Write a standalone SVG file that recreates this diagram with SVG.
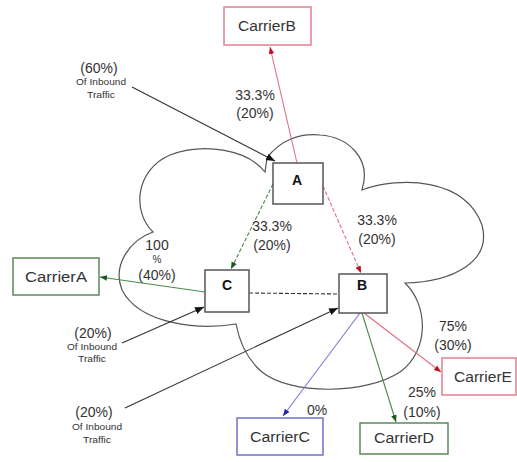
<svg xmlns="http://www.w3.org/2000/svg" width="517" height="462" viewBox="0 0 517 462">
  <style>
    text { font-family: "Liberation Sans", Arial, sans-serif; fill: #333; text-anchor: middle; }
    .pct { font-size: 14px; }
    .small { font-size: 8.5px; }
    .mid { font-size: 10px; }
    .carrier { font-size: 14px; }
    .nodelbl { font-size: 14px; font-weight: bold; fill: #111; }
    .node { fill: #fff; stroke: #555; stroke-width: 1.5; }
    .cloud { fill: none; stroke: #555; stroke-width: 1.2; }
    .red { stroke: #e07080; stroke-width: 1.1; fill: none; }
    .green { stroke: #4a8a4a; stroke-width: 1.1; fill: none; }
    .blue { stroke: #7a7ad8; stroke-width: 1.1; fill: none; }
    .black { stroke: #333; stroke-width: 1.1; fill: none; }
    .dash { stroke-dasharray: 4 2; }
    .cRed { fill: #fff; stroke: #e08090; stroke-width: 1.5; }
    .cGreen { fill: #fff; stroke: #5a8a5a; stroke-width: 1.5; }
    .cBlue { fill: #fff; stroke: #7070c8; stroke-width: 1.5; }
  </style>
  <defs>
    <marker id="arRed" viewBox="0 0 10 10" refX="10" refY="5" markerUnits="userSpaceOnUse" markerWidth="7" markerHeight="7" orient="auto">
      <path d="M0,1 L10,5 L0,9 Z" fill="#c01020"/>
    </marker>
    <marker id="arGreen" viewBox="0 0 10 10" refX="10" refY="5" markerUnits="userSpaceOnUse" markerWidth="7" markerHeight="7" orient="auto">
      <path d="M0,1 L10,5 L0,9 Z" fill="#1a5a1a"/>
    </marker>
    <marker id="arBlue" viewBox="0 0 10 10" refX="10" refY="5" markerUnits="userSpaceOnUse" markerWidth="7" markerHeight="7" orient="auto">
      <path d="M0,1 L10,5 L0,9 Z" fill="#2020b0"/>
    </marker>
    <marker id="arBlack" viewBox="0 0 10 10" refX="10" refY="5" markerUnits="userSpaceOnUse" markerWidth="9" markerHeight="9" orient="auto">
      <path d="M0,1 L10,5 L0,9 Z" fill="#111"/>
    </marker>
  </defs>

  <!-- network cloud -->
  <path id="cloud" class="cloud" d="M 267,158 C 280,140 300,133 320,135 C 348,137 372,158 362,190
    C 400,176 465,178 482,225 C 492,262 452,282 405,283
    C 428,305 430,350 400,372 C 365,395 290,395 262,372 C 248,360 240,345 236,324
    C 200,330 140,325 122,290 C 112,265 130,240 153,232
    C 132,212 135,170 170,155 C 205,142 248,150 265,172 Z"/>

  <!-- connectors -->
  <g id="connectors">
    <line class="red" x1="297" y1="163" x2="270" y2="47" marker-end="url(#arRed)"/>
    <line class="red dash" x1="323" y1="186" x2="361" y2="273" marker-end="url(#arRed)"/>
    <line class="green dash" x1="273" y1="184" x2="231" y2="269" marker-end="url(#arGreen)"/>
    <line class="black dash" x1="249" y1="293" x2="339" y2="294"/>
    <line class="green" x1="205" y1="292" x2="100" y2="277" marker-end="url(#arGreen)"/>
    <line class="blue" x1="360" y1="313" x2="283" y2="416" marker-end="url(#arBlue)"/>
    <line class="green" x1="362" y1="313" x2="396" y2="422" marker-end="url(#arGreen)"/>
    <line class="red" x1="364" y1="313" x2="441" y2="372" marker-end="url(#arRed)"/>
    <line class="black" x1="132" y1="87" x2="275" y2="161" marker-end="url(#arBlack)"/>
    <line class="black" x1="122" y1="343" x2="204" y2="307" marker-end="url(#arBlack)"/>
    <line class="black" x1="125" y1="408" x2="338" y2="308" marker-end="url(#arBlack)"/>
  </g>

  <!-- core nodes -->
  <g id="nodeA">
    <rect class="node" x="273" y="163" width="50" height="41"/>
    <text class="nodelbl" x="297" y="185">A</text>
  </g>
  <g id="nodeB">
    <rect class="node" x="339" y="274" width="48" height="39"/>
    <text class="nodelbl" x="362" y="290">B</text>
  </g>
  <g id="nodeC">
    <rect class="node" x="205" y="270" width="44" height="42"/>
    <text class="nodelbl" x="227" y="290">C</text>
  </g>

  <!-- carriers -->
  <g id="carrierA">
    <rect class="cGreen" x="13" y="258" width="86" height="37"/>
    <text class="carrier" x="56" y="282" textLength="62" lengthAdjust="spacingAndGlyphs">CarrierA</text>
  </g>
  <g id="carrierB">
    <rect class="cRed" x="224" y="7" width="87" height="38"/>
    <text class="carrier" x="267" y="31" textLength="58" lengthAdjust="spacingAndGlyphs">CarrierB</text>
  </g>
  <g id="carrierC">
    <rect class="cBlue" x="237" y="418" width="86" height="37"/>
    <text class="carrier" x="280" y="442" textLength="60" lengthAdjust="spacingAndGlyphs">CarrierC</text>
  </g>
  <g id="carrierD">
    <rect class="cGreen" x="360" y="423" width="88" height="31"/>
    <text class="carrier" x="404" y="443" textLength="60" lengthAdjust="spacingAndGlyphs">CarrierD</text>
  </g>
  <g id="carrierE">
    <rect class="cRed" x="442" y="358" width="74" height="37"/>
    <text class="carrier" x="483" y="382" textLength="58" lengthAdjust="spacingAndGlyphs">CarrierE</text>
  </g>

  <!-- traffic labels -->
  <g id="labels">
    <text class="pct" x="255" y="100">33.3%</text>
    <text class="pct" x="255" y="118">(20%)</text>
    <text class="pct" x="272" y="231">33.3%</text>
    <text class="pct" x="272" y="250">(20%)</text>
    <text class="pct" x="377" y="225">33.3%</text>
    <text class="pct" x="377" y="244">(20%)</text>
    <text class="pct" x="157" y="250">100</text>
    <text class="mid" x="157" y="263">%</text>
    <text class="pct" x="157" y="280">(40%)</text>
    <text class="pct" x="453" y="331">75%</text>
    <text class="pct" x="453" y="350">(30%)</text>
    <text class="pct" x="422" y="397">25%</text>
    <text class="pct" x="422" y="417">(10%)</text>
    <text class="pct" x="317" y="415">0%</text>

    <text class="pct" x="99" y="73">(60%)</text>
    <text class="small" x="101" y="85" textLength="50" lengthAdjust="spacingAndGlyphs">Of Inbound</text>
    <text class="small" x="101" y="98" textLength="28" lengthAdjust="spacingAndGlyphs">Traffic</text>

    <text class="pct" x="93" y="338">(20%)</text>
    <text class="small" x="92" y="350" textLength="50" lengthAdjust="spacingAndGlyphs">Of Inbound</text>
    <text class="small" x="92" y="362" textLength="28" lengthAdjust="spacingAndGlyphs">Traffic</text>

    <text class="pct" x="94" y="417">(20%)</text>
    <text class="small" x="97" y="430" textLength="50" lengthAdjust="spacingAndGlyphs">Of Inbound</text>
    <text class="small" x="97" y="443" textLength="28" lengthAdjust="spacingAndGlyphs">Traffic</text>
  </g>
</svg>
